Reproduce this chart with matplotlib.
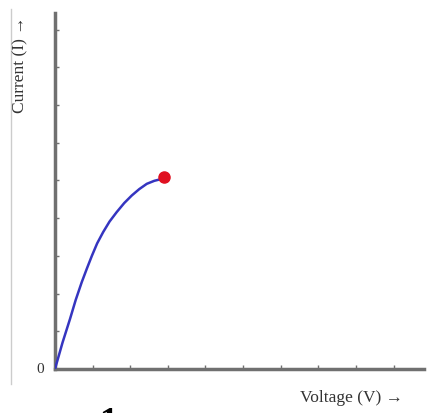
import matplotlib.pyplot as plt
from matplotlib.lines import Line2D

plt.rcParams['font.family'] = ['Liberation Serif', 'DejaVu Serif']

## Data
voltage = [0, 0.20, 0.40, 0.55, 0.71, 0.85, 0.98, 1.12, 1.28, 1.45, 1.64,
           1.84, 2.04, 2.24, 2.44, 2.64, 2.84, 2.9]
current = [0, 0.70, 1.33, 1.83, 2.30, 2.67, 3.00, 3.33, 3.63, 3.91, 4.16,
           4.40, 4.60, 4.77, 4.91, 4.99, 5.04, 5.08]
end_point = (2.9, 5.08)
ticks = [1, 2, 3, 4, 5, 6, 7, 8, 9]

W, H = 428, 414
fig = plt.figure(figsize=(W / 100, H / 100), dpi=100)
ax = fig.add_axes([55 / W, (H - 370) / H, (424 - 55) / W, (370 - 14) / H])

ax.plot(voltage, current, '-', color='#3535c0', lw=1.8, zorder=3,
        solid_joinstyle='round', solid_capstyle='round')
ax.plot(*end_point, 'o', color='#e01020', ms=8, zorder=4)

ax.set_xlim(0, 9.81)
ax.set_ylim(0, 9.44)
for s in ['top', 'right']:
    ax.spines[s].set_visible(False)
for s in ['left', 'bottom']:
    ax.spines[s].set_color('#707070')
    ax.spines[s].set_linewidth(2.5)
ax.set_xticks(ticks)
ax.set_yticks(ticks)
ax.tick_params(length=3, width=1, color='#707070', direction='in',
               labelbottom=False, labelleft=False)

fig.text(40 / W, (H - 370) / H, '0', fontsize=11, ha='center', va='center', color='#333333')
fig.text(20 / W, (H - 65) / H, 'Current (I) \u2192', rotation=90, fontsize=12.5,
         ha='center', va='center', color='#333333')
fig.text(352 / W, (H - 398) / H, 'Voltage (V) \u2192', fontsize=12.5,
         ha='center', va='center', color='#333333')
fig.text(108 / W, (H - 407) / H, '1', fontsize=26, fontweight='bold',
         ha='center', va='top', color='black')
fig.add_artist(Line2D([11 / W, 11 / W], [(H - 385) / H, (H - 10) / H],
                      color='#cccccc', lw=1))

plt.savefig('out.png', dpi=100)
